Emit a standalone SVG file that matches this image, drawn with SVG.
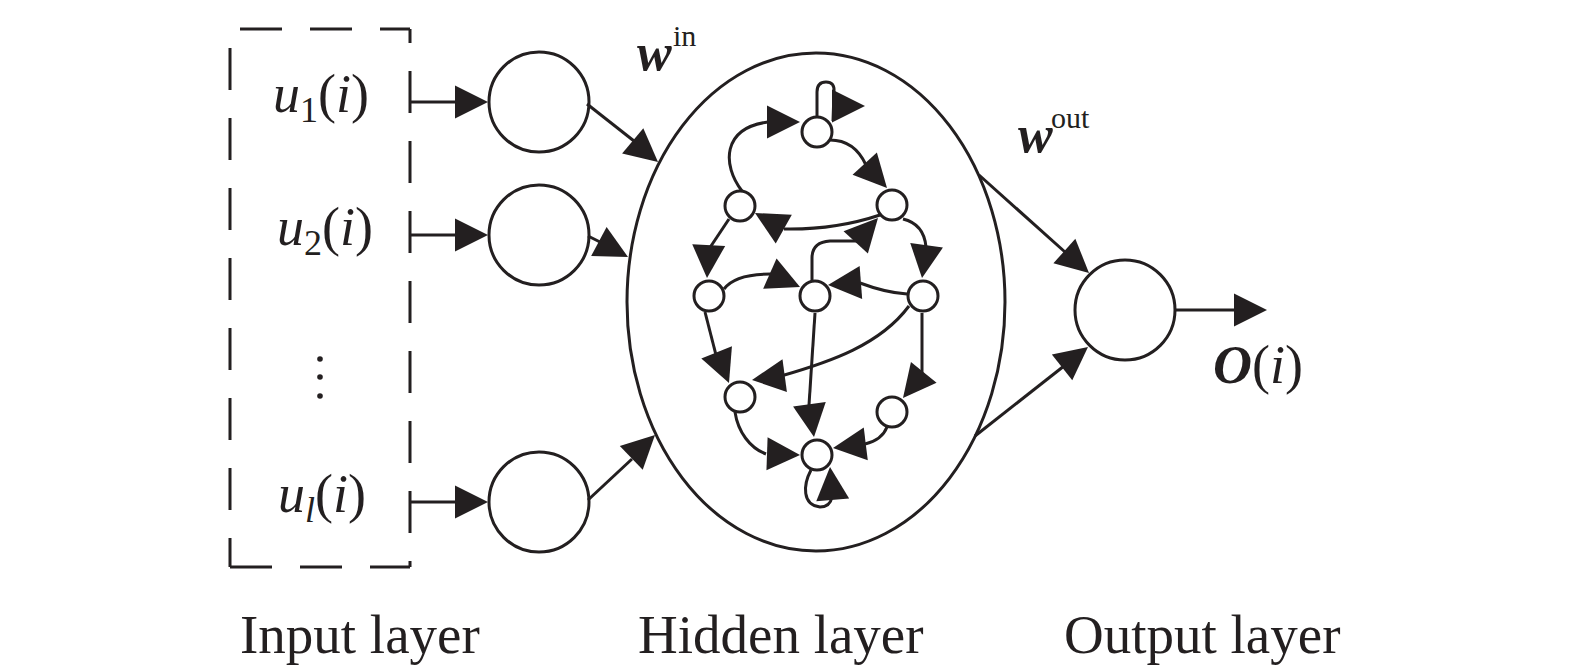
<svg xmlns="http://www.w3.org/2000/svg" xmlns:xlink="http://www.w3.org/1999/xlink" width="1575" height="670" viewBox="0 0 1575 670">
<style>
.ln{fill:none;stroke:#231f20;stroke-width:3;}
.nd{fill:#fff;stroke:#231f20;stroke-width:3;}
.dash{fill:none;stroke:#231f20;stroke-width:3;stroke-dasharray:42 28;}
.ah{fill:#231f20;stroke:none;}
.t{font-family:"Liberation Serif","Times New Roman",serif;fill:#231f20;}
</style>
<defs>
<path id="ah" d="M0,0 L-33,-16.5 L-33,16.5 Z"/>
</defs>
<rect width="1575" height="670" fill="#fff"/>

<g id="input-box">
<line class="dash" x1="230" y1="29" x2="410" y2="29" style="stroke-dashoffset:60"/>
<line class="dash" x1="230" y1="567" x2="410" y2="567"/>
<line class="dash" x1="230" y1="29" x2="230" y2="567" style="stroke-dashoffset:51"/>
<line class="dash" x1="410" y1="29" x2="410" y2="567" style="stroke-dashoffset:28"/>
<text class="t" x="273" y="112" font-size="54"><tspan font-style="italic">u</tspan><tspan font-size="36" dy="10">1</tspan><tspan dy="-10">(</tspan><tspan font-style="italic">i</tspan>)</text>
<text class="t" x="277" y="245" font-size="54"><tspan font-style="italic">u</tspan><tspan font-size="36" dy="10">2</tspan><tspan dy="-10">(</tspan><tspan font-style="italic">i</tspan>)</text>
<text class="t" x="278" y="512" font-size="54"><tspan font-style="italic">u</tspan><tspan font-size="36" dy="10" font-style="italic">l</tspan><tspan dy="-10">(</tspan><tspan font-style="italic">i</tspan>)</text>
<circle cx="320" cy="359" r="2.8" fill="#231f20"/>
<circle cx="320" cy="377" r="2.8" fill="#231f20"/>
<circle cx="320" cy="396" r="2.8" fill="#231f20"/>
</g>

<g id="in1"><circle class="nd" cx="539" cy="102" r="50"/></g>
<g id="in2"><circle class="nd" cx="539" cy="235" r="50"/></g>
<g id="inl"><circle class="nd" cx="539" cy="502" r="50"/></g>

<g id="reservoir"><ellipse class="nd" cx="816" cy="302" rx="189" ry="249"/></g>

<g id="output"><circle class="nd" cx="1125" cy="310" r="50"/></g>

<g id="connectors">
<line class="ln" x1="411" y1="102" x2="456" y2="102"/><use href="#ah" class="ah" transform="translate(488,102)"/>
<line class="ln" x1="411" y1="235" x2="456" y2="235"/><use href="#ah" class="ah" transform="translate(488,235)"/>
<line class="ln" x1="411" y1="502" x2="456" y2="502"/><use href="#ah" class="ah" transform="translate(488,502)"/>
<line class="ln" x1="587" y1="104" x2="634" y2="141"/><use href="#ah" class="ah" transform="translate(658,162) rotate(40)"/>
<line class="ln" x1="588" y1="236" x2="600" y2="242"/><use href="#ah" class="ah" transform="translate(628,257) rotate(28)"/>
<line class="ln" x1="588" y1="500" x2="632" y2="459"/><use href="#ah" class="ah" transform="translate(655,435) rotate(-44)"/>
<line class="ln" x1="979" y1="175" x2="1065" y2="252"/><use href="#ah" class="ah" transform="translate(1089,273) rotate(41.7)"/>
<line class="ln" x1="975" y1="436" x2="1064" y2="366"/><use href="#ah" class="ah" transform="translate(1088,347) rotate(-38.2)"/>
<line class="ln" x1="1175" y1="310" x2="1236" y2="310"/><use href="#ah" class="ah" transform="translate(1267,310)"/>

<path class="ln" d="M817,117 L817,92 Q817,82 826,82 Q835,82 834,92 L833,121"/><use href="#ah" class="ah" transform="translate(865,106)"/>
<path class="ln" d="M742,191 C722,165 722,128 768,122"/><use href="#ah" class="ah" transform="translate(800,122)"/>
<path class="ln" d="M830,140 C850,140 860,152 866,165"/><use href="#ah" class="ah" transform="translate(887,188) rotate(47.5)"/>
<path class="ln" d="M880,215 Q835,230 784,229"/><use href="#ah" class="ah" transform="translate(755,213) rotate(-150.7)"/>
<path class="ln" d="M729,219 L709,249"/><use href="#ah" class="ah" transform="translate(707,278) rotate(93)"/>
<path class="ln" d="M724,289 C732,278 748,274 771,274"/><use href="#ah" class="ah" transform="translate(800,287) rotate(24)"/>
<path class="ln" d="M907,294 C890,293 876,289 860,283"/><use href="#ah" class="ah" transform="translate(828,285) rotate(175.6)"/>
<path class="ln" d="M812,281 L812,258 Q812,242 830,241 L857,241"/><use href="#ah" class="ah" transform="translate(878,218) rotate(-47.5)"/>
<path class="ln" d="M903,219 Q924,224 926,247"/><use href="#ah" class="ah" transform="translate(922,278) rotate(98)"/>
<path class="ln" d="M705,312 L716,355"/><use href="#ah" class="ah" transform="translate(729,383) rotate(68)"/>
<path class="ln" d="M909,306 C880,345 830,362 781,376"/><use href="#ah" class="ah" transform="translate(752,380) rotate(172.3)"/>
<path class="ln" d="M815,313 L809,405"/><use href="#ah" class="ah" transform="translate(814,437) rotate(82)"/>
<path class="ln" d="M922,313 L922,374"/><use href="#ah" class="ah" transform="translate(903,398) rotate(129)"/>
<path class="ln" d="M735,412 C738,432 750,448 766,454"/><use href="#ah" class="ah" transform="translate(800,455) rotate(2)"/>
<path class="ln" d="M887,427 Q882,440 865,444"/><use href="#ah" class="ah" transform="translate(833,448) rotate(173)"/>
<path class="ln" d="M811,470 C803,485 802,505 820,507 Q830,507 832,497"/><use href="#ah" class="ah" transform="translate(830,467) rotate(-94.7)"/>
</g>

<g id="nA"><circle class="nd" cx="817" cy="132" r="15"/></g>
<g id="nB"><circle class="nd" cx="740" cy="206" r="15"/></g>
<g id="nC"><circle class="nd" cx="892" cy="205" r="15"/></g>
<g id="nD"><circle class="nd" cx="709" cy="296" r="15"/></g>
<g id="nE"><circle class="nd" cx="815" cy="296" r="15"/></g>
<g id="nF"><circle class="nd" cx="923" cy="296" r="15"/></g>
<g id="nG"><circle class="nd" cx="740" cy="397" r="15"/></g>
<g id="nH"><circle class="nd" cx="892" cy="412" r="15"/></g>
<g id="nI"><circle class="nd" cx="817" cy="455" r="15"/></g>

<g id="labels">
<text class="t" x="637" y="70" font-size="52"><tspan font-weight="bold" font-style="italic">w</tspan></text>
<text class="t" x="673" y="46" font-size="30">in</text>
<text class="t" x="1018" y="152" font-size="52"><tspan font-weight="bold" font-style="italic">w</tspan></text>
<text class="t" x="1051" y="128" font-size="30">out</text>
<text class="t" x="1213" y="383" font-size="54"><tspan font-weight="bold" font-style="italic">O</tspan>(<tspan font-style="italic">i</tspan>)</text>
<text class="t" x="240" y="653" font-size="55">Input layer</text>
<text class="t" x="638" y="653" font-size="55">Hidden layer</text>
<text class="t" x="1064" y="653" font-size="55">Output layer</text>
</g>
</svg>
